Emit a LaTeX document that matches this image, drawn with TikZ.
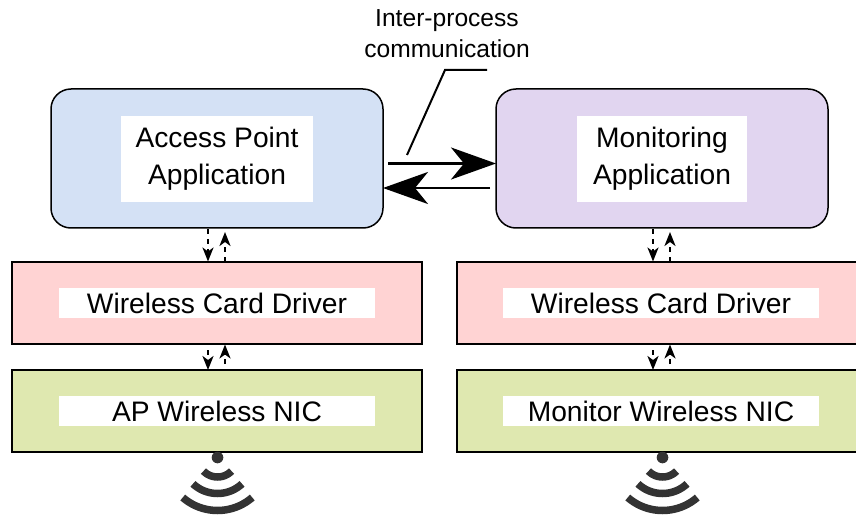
\documentclass[tikz,border=0pt]{standalone}
\usepackage{fontspec}
\setmainfont{Liberation Sans}
\usetikzlibrary{arrows.meta,positioning}
\definecolor{appblue}{HTML}{D4E1F5}
\definecolor{apppurple}{HTML}{E1D5F0}
\definecolor{drvpink}{HTML}{FFD3D3}
\definecolor{nicgreen}{HTML}{DFE8B0}
\definecolor{wifigray}{HTML}{333333}
\tikzset{
  every node/.style={inner sep=0pt,outer sep=0pt},
  appbox/.style={draw=black,line width=1.5pt,rounded corners=20pt,minimum width=332pt,minimum height=139pt},
  layerbox/.style={draw=black,line width=1.5pt,minimum width=410pt,minimum height=82pt},
  labelbox/.style={fill=white,align=center,font=\fontsize{28.2}{37}\selectfont},
  smalllabel/.style={align=center,font=\fontsize{24.6}{31}\selectfont},
  bigarrow/.style={line width=2.6pt,-{Stealth[length=45pt,width=32pt,inset=13pt]}},
  leader/.style={line width=2pt},
  dasharrow/.style={line width=2pt,dash pattern=on 5pt off 5pt,-{Stealth[length=14pt,width=11pt,inset=4pt]}},
  wifidot/.style={fill=wifigray},
  wifiarc/.style={draw=wifigray,line width=7.5pt},
}
\begin{document}
\begin{tikzpicture}[x=1pt,y=-1pt]
\useasboundingbox (0,0) rectangle (856,521);
\clip (0,0) rectangle (856,521);
% boxes
\node[appbox,fill=appblue] (ap) at (217,158.5) {};
\node[appbox,fill=apppurple] (mon) at (662,158.5) {};
\node[layerbox,fill=drvpink] (drvL) at (217,303) {};
\node[layerbox,fill=drvpink] (drvR) at (662,303) {};
\node[layerbox,fill=nicgreen] (nicL) at (217,411) {};
\node[layerbox,fill=nicgreen] (nicR) at (662,411) {};
% labels
\node[labelbox,minimum width=192pt,minimum height=86pt] (apl) at (217,159) {Access Point\\Application};
\node[labelbox,minimum width=170pt,minimum height=86pt] (monl) at (662,159) {Monitoring\\Application};
\node[labelbox,minimum width=316pt,minimum height=30pt] (drvLl) at (217,303) {Wireless Card Driver};
\node[labelbox,minimum width=316pt,minimum height=30pt] (drvRl) at (661,303) {Wireless Card Driver};
\node[labelbox,minimum width=316pt,minimum height=30pt] (nicLl) at (217,411) {AP Wireless NIC};
\node[labelbox,minimum width=316pt,minimum height=30pt] (nicRl) at (661,411) {Monitor Wireless NIC};
\node[smalllabel] (ipc) at (447,33.5) {Inter-process\\communication};
% inter-process arrows
\coordinate (s1) at (388,163.5);
\coordinate (e1) at (mon.west |- s1);
\coordinate (s2) at (490,188);
\coordinate (e2) at (ap.east |- s2);
\draw[bigarrow] (s1) -- (e1);
\draw[bigarrow] (s2) -- (e2);
% leader
\coordinate (la) at (407,155);
\coordinate (lb) at (445,70);
\coordinate (lc) at (487,70);
\draw[leader] (la) -- (lb) -- (lc);
% dashed arrows
\foreach \n/\dx in {L/208,R/653}{
  \coordinate (a\n) at (\dx,229);
  \coordinate (b\n) at (\dx,261.5);
  \coordinate (c\n) at (\dx+17,262);
  \coordinate (d\n) at (\dx+17,232);
  \coordinate (f\n) at (\dx,350);
  \coordinate (g\n) at (\dx,370);
  \coordinate (h\n) at (\dx+17,364);
  \coordinate (i\n) at (\dx+17,344.5);
  \draw[dasharrow] (a\n) -- (b\n);
  \draw[dasharrow] (c\n) -- (d\n);
  \draw[dasharrow] (f\n) -- (g\n);
  \draw[dasharrow] (h\n) -- (i\n);
}
% wifi icons
\foreach \cx in {217.5,662.5}{
  \fill[wifidot] (\cx,457.5) circle (5.8pt);
  \foreach \r/\a in {19.5/46,36/43,53/41}{
    \draw[wifiarc] plot[domain=-\a:\a,samples=21,smooth,variable=\t] ({\cx+\r*sin(\t)},{457.5+\r*cos(\t)});
  }
}
\end{tikzpicture}
\end{document}
